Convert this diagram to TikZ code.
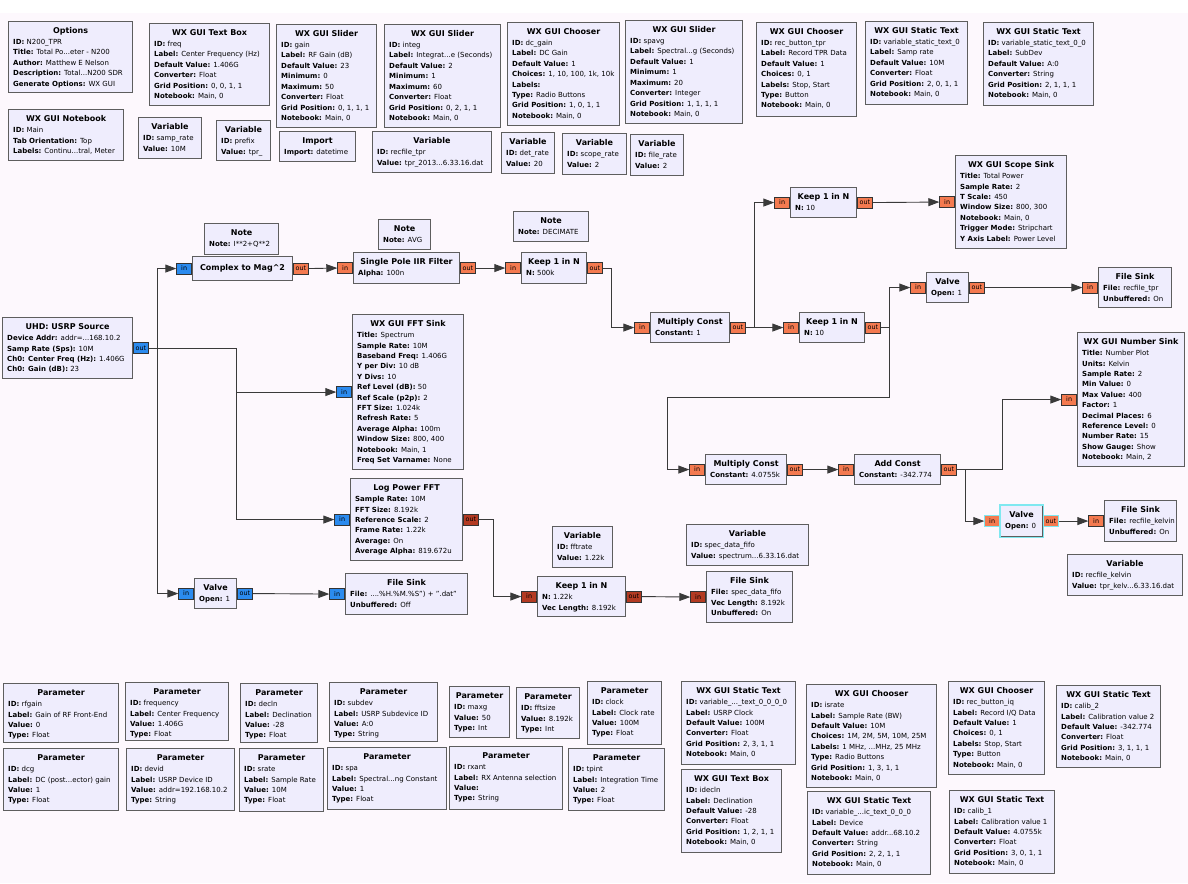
\documentclass[tikz,border=0pt]{standalone}
\usepackage{fontspec}
\setmainfont{DejaVu Sans}
\usetikzlibrary{arrows.meta}
\definecolor{bg}{HTML}{FDF8FD}
\definecolor{blkfill}{HTML}{EFEDFD}
\definecolor{blkline}{HTML}{5E5E5E}
\definecolor{pcx}{HTML}{2B8BEF}
\definecolor{pfl}{HTML}{F47A50}
\definecolor{pvec}{HTML}{B33A22}
\definecolor{wirec}{HTML}{3A3A3A}
\definecolor{sel}{HTML}{7FE8F0}
\newcommand\gp[2]{\textbf{#1:} #2}
\newcommand\gblk[7]{%
  \node[blk, minimum width={#4-#2}, minimum height={#5-#3}, anchor=north west] (#1) at (#2,#3) {};
  \node[ttl] at ([yshift=-12.5pt]#1.north) {#6};
  \node[prm] at ([xshift=5pt,yshift=-23.6pt]#1.north west) {\begin{tabular}[t]{@{}l@{}}#7\end{tabular}};}
\newcommand\gin[2]{\node[port, fill=#2, anchor=east] (#1-i) at (#1.west) {in};}
\newcommand\gout[2]{\node[port, fill=#2, anchor=west] (#1-o) at (#1.east) {out};}
\begin{document}
\begin{tikzpicture}[x=1pt,y=-1pt,
  blk/.style={draw=blkline, fill=blkfill, line width=1.1pt, inner sep=0pt},
  ttl/.style={anchor=base, inner sep=0pt, font=\fontsize{8}{9.6}\selectfont\bfseries},
  prm/.style={anchor=base west, inner sep=0pt, font=\fontsize{7.0}{10.4}\selectfont},
  port/.style={draw=black!80, line width=0.7pt, minimum width=15pt, minimum height=11pt, inner sep=0pt, font=\fontsize{6.4}{7}\selectfont},
  wire/.style={draw=wirec, line width=0.9pt, -{Triangle[length=11pt,width=8pt]}}]
\useasboundingbox (0,0) rectangle (1188,883);
\fill[bg] (0,0) rectangle (1188,883);
\fill[white] (0,0) rectangle (1188,13);
% ---------------- top row
\gblk{opts}{8}{21}{132}{92}{Options}{\gp{ID}{N200\_TPR}\\\gp{Title}{Total Po...eter - N200}\\\gp{Author}{Matthew E Nelson}\\\gp{Description}{Total...N200 SDR}\\\gp{Generate Options}{WX GUI}}
\gblk{tbfreq}{149}{23}{269}{105}{WX GUI Text Box}{\gp{ID}{freq}\\\gp{Label}{Center Frequency (Hz)}\\\gp{Default Value}{1.406G}\\\gp{Converter}{Float}\\\gp{Grid Position}{0, 0, 1, 1}\\\gp{Notebook}{Main, 0}}
\gblk{slgain}{276}{24}{376}{127}{WX GUI Slider}{\gp{ID}{gain}\\\gp{Label}{RF Gain (dB)}\\\gp{Default Value}{23}\\\gp{Minimum}{0}\\\gp{Maximum}{50}\\\gp{Converter}{Float}\\\gp{Grid Position}{0, 1, 1, 1}\\\gp{Notebook}{Main, 0}}
\gblk{slinteg}{384}{24}{500}{127}{WX GUI Slider}{\gp{ID}{integ}\\\gp{Label}{Integrat...e (Seconds)}\\\gp{Default Value}{2}\\\gp{Minimum}{1}\\\gp{Maximum}{60}\\\gp{Converter}{Float}\\\gp{Grid Position}{0, 2, 1, 1}\\\gp{Notebook}{Main, 0}}
\gblk{chdc}{507}{22}{619}{125}{WX GUI Chooser}{\gp{ID}{dc\_gain}\\\gp{Label}{DC Gain}\\\gp{Default Value}{1}\\\gp{Choices}{1, 10, 100, 1k, 10k}\\\gp{Labels}{}\\\gp{Type}{Radio Buttons}\\\gp{Grid Position}{1, 0, 1, 1}\\\gp{Notebook}{Main, 0}}
\gblk{slspavg}{625}{20}{742}{123}{WX GUI Slider}{\gp{ID}{spavg}\\\gp{Label}{Spectral...g (Seconds)}\\\gp{Default Value}{1}\\\gp{Minimum}{1}\\\gp{Maximum}{20}\\\gp{Converter}{Integer}\\\gp{Grid Position}{1, 1, 1, 1}\\\gp{Notebook}{Main, 0}}
\gblk{chrec}{756}{22}{856}{116}{WX GUI Chooser}{\gp{ID}{rec\_button\_tpr}\\\gp{Label}{Record TPR Data}\\\gp{Default Value}{1}\\\gp{Choices}{0, 1}\\\gp{Labels}{Stop, Start}\\\gp{Type}{Button}\\\gp{Notebook}{Main, 0}}
\gblk{st0}{865}{21}{967}{104}{WX GUI Static Text}{\gp{ID}{variable\_static\_text\_0}\\\gp{Label}{Samp rate}\\\gp{Default Value}{10M}\\\gp{Converter}{Float}\\\gp{Grid Position}{2, 0, 1, 1}\\\gp{Notebook}{Main, 0}}
\gblk{st00}{983}{22}{1093}{105}{WX GUI Static Text}{\gp{ID}{variable\_static\_text\_0\_0}\\\gp{Label}{SubDev}\\\gp{Default Value}{A:0}\\\gp{Converter}{String}\\\gp{Grid Position}{2, 1, 1, 1}\\\gp{Notebook}{Main, 0}}
\gblk{nb}{8}{109}{123}{160}{WX GUI Notebook}{\gp{ID}{Main}\\\gp{Tab Orientation}{Top}\\\gp{Labels}{Continu...tral, Meter}}
\gblk{vsamp}{138}{117}{201}{158}{Variable}{\gp{ID}{samp\_rate}\\\gp{Value}{10M}}
\gblk{vprefix}{216}{120}{270}{160}{Variable}{\gp{ID}{prefix}\\\gp{Value}{tpr\_}}
\gblk{imp}{279}{131}{355}{161}{Import}{\gp{Import}{datetime}}
\gblk{vrecfile}{372}{131}{491}{172}{Variable}{\gp{ID}{recfile\_tpr}\\\gp{Value}{tpr\_2013...6.33.16.dat}}
\gblk{vdet}{501}{132}{554}{173}{Variable}{\gp{ID}{det\_rate}\\\gp{Value}{20}}
\gblk{vscope}{562}{133}{626}{174}{Variable}{\gp{ID}{scope\_rate}\\\gp{Value}{2}}
\gblk{vfile}{630}{134}{683}{175}{Variable}{\gp{ID}{file\_rate}\\\gp{Value}{2}}
% ---------------- flow graph
\gblk{usrp}{2}{317}{132}{378}{UHD: USRP Source}{\gp{Device Addr}{addr=...168.10.2}\\\gp{Samp Rate (Sps)}{10M}\\\gp{Ch0: Center Freq (Hz)}{1.406G}\\\gp{Ch0: Gain (dB)}{23}}
\gout{usrp}{pcx}
\gblk{note1}{204}{223}{278}{254}{Note}{\gp{Note}{I**2+Q**2}}
\node[blk, minimum width=100, minimum height=24, anchor=north west] (cmag) at (192,256) {};
\node[ttl, anchor=center] at (cmag.center) {Complex to Mag\textasciicircum2};
\gin{cmag}{pcx}\gout{cmag}{pfl}
\gblk{note2}{378}{219}{430}{249}{Note}{\gp{Note}{AVG}}
\gblk{iir}{353}{252}{459}{283}{Single Pole IIR Filter}{\gp{Alpha}{100n}}
\gin{iir}{pfl}\gout{iir}{pfl}
\gblk{note3}{513}{211}{588}{241}{Note}{\gp{Note}{DECIMATE}}
\gblk{keep500}{521}{252}{586}{283}{Keep 1 in N}{\gp{N}{500k}}
\gin{keep500}{pfl}\gout{keep500}{pfl}
\gblk{mc1}{650}{312}{729}{342}{Multiply Const}{\gp{Constant}{1}}
\gin{mc1}{pfl}\gout{mc1}{pfl}
\gblk{keepA}{790}{187}{856}{217}{Keep 1 in N}{\gp{N}{10}}
\gin{keepA}{pfl}\gout{keepA}{pfl}
\gblk{scope}{955}{155}{1066}{248}{WX GUI Scope Sink}{\gp{Title}{Total Power}\\\gp{Sample Rate}{2}\\\gp{T Scale}{450}\\\gp{Window Size}{800, 300}\\\gp{Notebook}{Main, 0}\\\gp{Trigger Mode}{Stripchart}\\\gp{Y Axis Label}{Power Level}}
\gin{scope}{pfl}
\gblk{keepB}{799}{312}{864}{342}{Keep 1 in N}{\gp{N}{10}}
\gin{keepB}{pfl}\gout{keepB}{pfl}
\gblk{valveA}{926}{272}{968}{302}{Valve}{\gp{Open}{1}}
\gin{valveA}{pfl}\gout{valveA}{pfl}
\gblk{fsA}{1098}{267}{1171}{307}{File Sink}{\gp{File}{recfile\_tpr}\\\gp{Unbuffered}{On}}
\gin{fsA}{pfl}
\gblk{numsink}{1077}{332}{1184}{466}{WX GUI Number Sink}{\gp{Title}{Number Plot}\\\gp{Units}{Kelvin}\\\gp{Sample Rate}{2}\\\gp{Min Value}{0}\\\gp{Max Value}{400}\\\gp{Factor}{1}\\\gp{Decimal Places}{6}\\\gp{Reference Level}{0}\\\gp{Number Rate}{15}\\\gp{Show Gauge}{Show}\\\gp{Notebook}{Main, 2}}
\gin{numsink}{pfl}
\gblk{fft}{352}{314}{463}{469}{WX GUI FFT Sink}{\gp{Title}{Spectrum}\\\gp{Sample Rate}{10M}\\\gp{Baseband Freq}{1.406G}\\\gp{Y per Div}{10 dB}\\\gp{Y Divs}{10}\\\gp{Ref Level (dB)}{50}\\\gp{Ref Scale (p2p)}{2}\\\gp{FFT Size}{1.024k}\\\gp{Refresh Rate}{5}\\\gp{Average Alpha}{100m}\\\gp{Window Size}{800, 400}\\\gp{Notebook}{Main, 1}\\\gp{Freq Set Varname}{None}}
\gin{fft}{pcx}
\gblk{mc2}{705}{454}{786}{484}{Multiply Const}{\gp{Constant}{4.0755k}}
\gin{mc2}{pfl}\gout{mc2}{pfl}
\gblk{addc}{854}{454}{940}{484}{Add Const}{\gp{Constant}{-342.774}}
\gin{addc}{pfl}\gout{addc}{pfl}
\gblk{valveB}{1000}{505}{1042}{536}{Valve}{\gp{Open}{0}}
\draw[sel, line width=1.1pt] (valveB.north west) rectangle (valveB.south east);
\node[port, fill=pfl, draw=sel, anchor=east] (valveB-i) at (valveB.west) {in};
\node[port, fill=pfl, draw=sel, anchor=west] (valveB-o) at (valveB.east) {out};
\gblk{fsB}{1104}{500}{1176}{541}{File Sink}{\gp{File}{recfile\_kelvin}\\\gp{Unbuffered}{On}}
\gin{fsB}{pfl}
\gblk{vkelvin}{1067}{554}{1182}{595}{Variable}{\gp{ID}{recfile\_kelvin}\\\gp{Value}{tpr\_kelv...6.33.16.dat}}
\gblk{logfft}{350}{478}{462}{560}{Log Power FFT}{\gp{Sample Rate}{10M}\\\gp{FFT Size}{8.192k}\\\gp{Reference Scale}{2}\\\gp{Frame Rate}{1.22k}\\\gp{Average}{On}\\\gp{Average Alpha}{819.672u}}
\gin{logfft}{pcx}\gout{logfft}{pvec}
\gblk{vfft}{552}{526}{612}{567}{Variable}{\gp{ID}{fftrate}\\\gp{Value}{1.22k}}
\gblk{vspec}{686}{524}{808}{565}{Variable}{\gp{ID}{spec\_data\_fifo}\\\gp{Value}{spectrum...6.33.16.dat}}
\gblk{keepV}{537}{576}{625}{616}{Keep 1 in N}{\gp{N}{1.22k}\\\gp{Vec Length}{8.192k}}
\gin{keepV}{pvec}\gout{keepV}{pvec}
\gblk{fsV}{706}{571}{792}{622}{File Sink}{\gp{File}{spec\_data\_fifo}\\\gp{Vec Length}{8.192k}\\\gp{Unbuffered}{On}}
\gin{fsV}{pvec}
\gblk{valve1}{194}{578}{236}{608}{Valve}{\gp{Open}{1}}
\gin{valve1}{pcx}\gout{valve1}{pcx}
\gblk{fs1}{345}{573}{467}{614}{File Sink}{\gp{File}{....\%H.\%M.\%S") + ".dat"}\\\gp{Unbuffered}{Off}}
\gin{fs1}{pcx}
% ---------------- connections
\draw[wire] (usrp-o.east) -- ([xshift=9pt]usrp-o.east) |- (cmag-i.west);
\draw[wire] (usrp-o.east) -- ([xshift=9pt]usrp-o.east) |- (valve1-i.west);
\draw[wire] (usrp-o.east) -- ([xshift=88pt]usrp-o.east) |- (fft-i.west);
\draw[wire] (usrp-o.east) -- ([xshift=88pt]usrp-o.east) |- (logfft-i.west);
\draw[wire] (cmag-o.east) -- (iir-i.west);
\draw[wire] (iir-o.east) -- (keep500-i.west);
\draw[wire] (keep500-o.east) -- ([xshift=9pt]keep500-o.east) |- (mc1-i.west);
\draw[wire] (mc1-o.east) -- ([xshift=9pt]mc1-o.east) |- (keepA-i.west);
\draw[wire] (mc1-o.east) -- (keepB-i.west);
\draw[wire] (keepA-o.east) -- (scope-i.west);
\draw[wire] (keepB-o.east) -- ([xshift=9pt]keepB-o.east) |- (valveA-i.west);
\draw[wire] (keepB-o.east) -- ([xshift=9pt]keepB-o.east) -- ([xshift=9pt,yshift=-70pt]keepB-o.east) -| ([xshift=-22pt]mc2-i.west) -- (mc2-i.west);
\draw[wire] (valveA-o.east) -- (fsA-i.west);
\draw[wire] (mc2-o.east) -- (addc-i.west);
\draw[wire] (addc-o.east) -- ([xshift=46pt]addc-o.east) |- (numsink-i.west);
\draw[wire] (addc-o.east) -- ([xshift=9pt]addc-o.east) |- (valveB-i.west);
\draw[wire] (valveB-o.east) -- (fsB-i.west);
\draw[wire] (logfft-o.east) -- ([xshift=15pt]logfft-o.east) |- (keepV-i.west);
\draw[wire] (keepV-o.east) -- (fsV-i.west);
\draw[wire] (valve1-o.east) -- (fs1-i.west);
% ---------------- bottom area
\gblk{prf}{3}{683}{118}{742}{Parameter}{\gp{ID}{rfgain}\\\gp{Label}{Gain of RF Front-End}\\\gp{Value}{0}\\\gp{Type}{Float}}
\gblk{pfreq}{125}{682}{228}{740}{Parameter}{\gp{ID}{frequency}\\\gp{Label}{Center Frequency}\\\gp{Value}{1.406G}\\\gp{Type}{Float}}
\gblk{pdecln}{240}{683}{317}{742}{Parameter}{\gp{ID}{decln}\\\gp{Label}{Declination}\\\gp{Value}{-28}\\\gp{Type}{Float}}
\gblk{psubdev}{329}{682}{437}{741}{Parameter}{\gp{ID}{subdev}\\\gp{Label}{USRP Subdevice ID}\\\gp{Value}{A:0}\\\gp{Type}{String}}
\gblk{pdcg}{3}{748}{118}{810}{Parameter}{\gp{ID}{dcg}\\\gp{Label}{DC (post...ector) gain}\\\gp{Value}{1}\\\gp{Type}{Float}}
\gblk{pdevid}{126}{748}{234}{810}{Parameter}{\gp{ID}{devid}\\\gp{Label}{USRP Device ID}\\\gp{Value}{addr=192.168.10.2}\\\gp{Type}{String}}
\gblk{psrate}{239}{748}{323}{811}{Parameter}{\gp{ID}{srate}\\\gp{Label}{Sample Rate}\\\gp{Value}{10M}\\\gp{Type}{Float}}
\gblk{pspa}{327}{747}{446}{809}{Parameter}{\gp{ID}{spa}\\\gp{Label}{Spectral...ng Constant}\\\gp{Value}{1}\\\gp{Type}{Float}}
\gblk{pmaxg}{449}{686}{509}{737}{Parameter}{\gp{ID}{maxg}\\\gp{Value}{50}\\\gp{Type}{Int}}
\gblk{pfft}{516}{687}{579}{738}{Parameter}{\gp{ID}{fftsize}\\\gp{Value}{8.192k}\\\gp{Type}{Int}}
\gblk{pclock}{587}{681}{661}{744}{Parameter}{\gp{ID}{clock}\\\gp{Label}{Clock rate}\\\gp{Value}{100M}\\\gp{Type}{Float}}
\gblk{stclk}{681}{681}{795}{764}{WX GUI Static Text}{\gp{ID}{variable\_...\_text\_0\_0\_0\_0}\\\gp{Label}{USRP Clock}\\\gp{Default Value}{100M}\\\gp{Converter}{Float}\\\gp{Grid Position}{2, 3, 1, 1}\\\gp{Notebook}{Main, 0}}
\gblk{prxant}{449}{746}{562}{809}{Parameter}{\gp{ID}{rxant}\\\gp{Label}{RX Antenna selection}\\\gp{Value}{}\\\gp{Type}{String}}
\gblk{ptpint}{568}{748}{664}{810}{Parameter}{\gp{ID}{tpint}\\\gp{Label}{Integration Time}\\\gp{Value}{2}\\\gp{Type}{Float}}
\gblk{tbdecl}{681}{769}{781}{852}{WX GUI Text Box}{\gp{ID}{idecln}\\\gp{Label}{Declination}\\\gp{Default Value}{-28}\\\gp{Converter}{Float}\\\gp{Grid Position}{1, 2, 1, 1}\\\gp{Notebook}{Main, 0}}
\gblk{chis}{806}{684}{936}{787}{WX GUI Chooser}{\gp{ID}{israte}\\\gp{Label}{Sample Rate (BW)}\\\gp{Default Value}{10M}\\\gp{Choices}{1M, 2M, 5M, 10M, 25M}\\\gp{Labels}{1 MHz, ...MHz, 25 MHz}\\\gp{Type}{Radio Buttons}\\\gp{Grid Position}{1, 3, 1, 1}\\\gp{Notebook}{Main, 0}}
\gblk{chiq}{948}{681}{1044}{774}{WX GUI Chooser}{\gp{ID}{rec\_button\_iq}\\\gp{Label}{Record I/Q Data}\\\gp{Default Value}{1}\\\gp{Choices}{0, 1}\\\gp{Labels}{Stop, Start}\\\gp{Type}{Button}\\\gp{Notebook}{Main, 0}}
\gblk{stc2}{1056}{685}{1160}{767}{WX GUI Static Text}{\gp{ID}{calib\_2}\\\gp{Label}{Calibration value 2}\\\gp{Default Value}{-342.774}\\\gp{Converter}{Float}\\\gp{Grid Position}{3, 1, 1, 1}\\\gp{Notebook}{Main, 0}}
\gblk{stdev}{807}{791}{930}{874}{WX GUI Static Text}{\gp{ID}{variable\_...ic\_text\_0\_0\_0}\\\gp{Label}{Device}\\\gp{Default Value}{addr...68.10.2}\\\gp{Converter}{String}\\\gp{Grid Position}{2, 2, 1, 1}\\\gp{Notebook}{Main, 0}}
\gblk{stc1}{949}{790}{1054}{873}{WX GUI Static Text}{\gp{ID}{calib\_1}\\\gp{Label}{Calibration value 1}\\\gp{Default Value}{4.0755k}\\\gp{Converter}{Float}\\\gp{Grid Position}{3, 0, 1, 1}\\\gp{Notebook}{Main, 0}}
\end{tikzpicture}
\end{document}
